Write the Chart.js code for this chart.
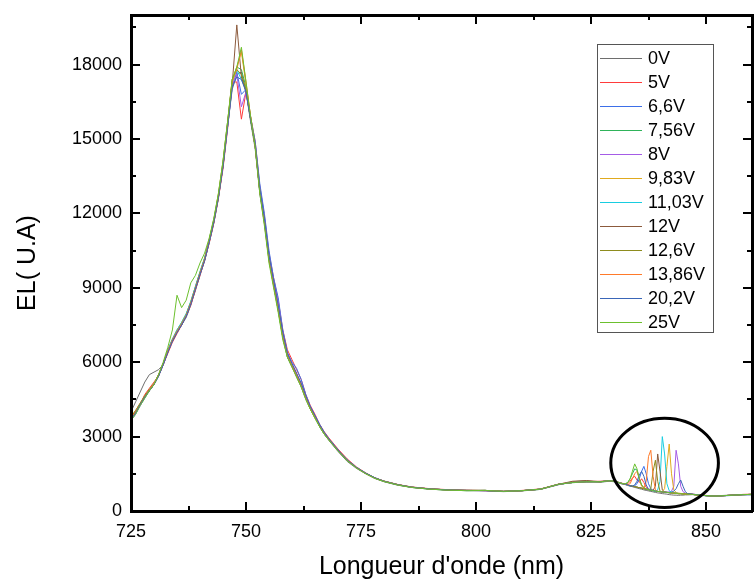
<!DOCTYPE html>
<html>
<head>
<meta charset="utf-8">
<title>EL spectra</title>
<script src="https://cdn.jsdelivr.net/npm/chart.js@4.4.1/dist/chart.umd.min.js"></script>
<style>
    html, body { margin: 0; padding: 0; background: #fff; overflow: hidden; }
    #wrap { width: 755px; height: 583px; }
    canvas { display: block; }
</style>
</head>
<body>
<div id="wrap"><canvas id="elChart" width="755" height="583"></canvas></div>
<script>
// wavelengths (nm), shared by every spectrum
const wavelengths = [
    725, 726, 727, 728, 729, 730, 731, 732, 733, 734,
    735, 736, 737, 738, 739, 740, 741, 742, 743, 744,
    745, 746, 747, 748, 749, 750, 751, 752, 753, 754,
    755, 756, 757, 758, 759, 760, 761, 762, 763, 764,
    765, 766, 767, 768,
    770, 772, 774, 776, 778, 780, 783, 786,
    790, 794, 798, 802, 806, 810, 814, 818, 821, 824, 827, 829,
    830, 830.5, 831, 831.5, 832, 832.5, 833, 833.5, 834, 834.5,
    835, 835.5, 836, 836.5, 837, 837.5, 838, 838.5, 839, 839.5,
    840, 840.5, 841, 841.5, 842, 842.5, 843, 843.5, 844, 844.5,
    845, 845.5, 846,
    847, 848, 850, 852, 854, 856, 858, 860
];

// EL intensity (U.A) for each applied voltage
const el0V = [
    4000, 4400, 4800, 5200, 5500, 5600, 5700, 5900, 6500, 6900,
    7200, 7500, 7800, 8300, 8900, 9500, 10100, 10800, 11600, 12600,
    13900, 15500, 17000, 17600, 17700, 16900, 15700, 14600, 12800, 11600,
    10100, 9100, 8100, 7000, 6200, 5800, 5400, 5000, 4500, 4100,
    3750, 3400, 3100, 2850,
    2400, 2000, 1720, 1500, 1310, 1180, 1040, 950,
    880, 840, 820, 810, 780, 810, 870, 1060, 1180, 1220, 1160, 1200,
    1180, 1160, 1140, 1100, 1080, 1060, 1030, 1000, 980, 950,
    930, 900, 880, 850, 830, 810, 790, 770, 750, 730,
    720, 700, 690, 680, 660, 650, 640, 640, 630, 640,
    640, 650, 650,
    660, 650, 620, 610, 630, 650, 660, 650
];
const el5V = [
    3700, 3950, 4300, 4700, 4950, 5200, 5450, 5900, 6350, 6800,
    7150, 7500, 7850, 8300, 8900, 9500, 10100, 10800, 11600, 12600,
    13800, 15400, 17300, 17300, 15800, 16900, 15900, 14900, 13100, 11900,
    10400, 9400, 8500, 7300, 6500, 6100, 5700, 5300, 4700, 4250,
    3900, 3500, 3200, 2950,
    2500, 2100, 1780, 1540, 1340, 1210, 1070, 970,
    900, 860, 840, 820, 800, 830, 890, 1090, 1160, 1190, 1200, 1230,
    1210, 1190, 1160, 1130, 1110, 1090, 1100, 1200, 1330, 1400,
    1250, 1150, 1300, 1150, 950, 880, 850, 830, 810, 790,
    780, 770, 760, 750, 745, 740, 730, 720, 710, 705,
    700, 690, 690,
    680, 660, 630, 600, 620, 640, 670, 680
];
const el6_6V = [
    3650, 3900, 4250, 4550, 4850, 5100, 5450, 5900, 6400, 6850,
    7200, 7500, 7850, 8350, 8950, 9550, 10100, 10850, 11650, 12650,
    13900, 15500, 17100, 17700, 16800, 17000, 15900, 14900, 13200, 12000,
    10500, 9400, 8600, 7300, 6400, 6000, 5750, 5300, 4700, 4200,
    3850, 3500, 3180, 2920,
    2470, 2060, 1760, 1530, 1340, 1200, 1060, 960,
    890, 850, 830, 830, 790, 820, 880, 1070, 1150, 1170, 1190, 1210,
    1190, 1170, 1140, 1110, 1090, 1070, 1040, 1010, 1000, 1020,
    1100, 1300, 1600, 1800, 1500, 1100, 900, 830, 800, 790,
    780, 770, 760, 750, 740, 730, 720, 710, 700, 700,
    690, 690, 680,
    670, 650, 610, 590, 610, 630, 650, 660
];
const el7_56V = [
    3750, 4000, 4300, 4600, 4850, 5100, 5450, 5950, 6450, 6900,
    7300, 7600, 7950, 8450, 9050, 9650, 10200, 10950, 11750, 12750,
    14100, 15700, 17300, 17900, 17800, 17100, 15800, 14700, 12900, 11700,
    10200, 9100, 8100, 7000, 6200, 5850, 5450, 5050, 4550, 4100,
    3750, 3400, 3100, 2870,
    2430, 2030, 1740, 1510, 1320, 1190, 1050, 950,
    880, 840, 820, 830, 790, 820, 870, 1080, 1140, 1180, 1170, 1210,
    1200, 1180, 1150, 1120, 1100, 1100, 1150, 1300, 1500, 1700,
    1650, 1300, 1050, 920, 880, 860, 840, 820, 800, 790,
    780, 770, 760, 750, 740, 730, 720, 710, 700, 700,
    690, 690, 680,
    670, 650, 620, 600, 620, 640, 660, 670
];
const el8V = [
    3700, 3950, 4250, 4600, 4850, 5100, 5450, 5900, 6400, 6850,
    7200, 7500, 7850, 8350, 8950, 9550, 10100, 10850, 11650, 12650,
    13900, 15500, 17200, 17600, 16300, 16900, 15800, 14800, 13000, 11800,
    10300, 9300, 8400, 7200, 6350, 5950, 5550, 5150, 4650, 4200,
    3850, 3480, 3170, 2910,
    2460, 2060, 1760, 1530, 1340, 1200, 1060, 960,
    890, 850, 830, 820, 790, 820, 880, 1080, 1150, 1180, 1180, 1220,
    1200, 1180, 1150, 1120, 1100, 1080, 1050, 1020, 1000, 980,
    960, 940, 920, 900, 880, 860, 840, 820, 800, 790,
    780, 770, 760, 760, 770, 800, 1000, 2450, 1900, 1000,
    780, 720, 700,
    680, 660, 620, 600, 620, 640, 660, 670
];
const el9_83V = [
    3800, 4050, 4350, 4650, 4900, 5150, 5500, 5950, 6450, 6900,
    7250, 7550, 7900, 8400, 9000, 9600, 10200, 10950, 11750, 12800,
    14100, 15700, 17400, 17900, 18500, 17200, 15900, 14700, 12900, 11600,
    10100, 9100, 8100, 7000, 6250, 5850, 5450, 5050, 4550, 4100,
    3750, 3420, 3120, 2880,
    2440, 2040, 1750, 1520, 1330, 1200, 1060, 960,
    890, 850, 830, 830, 790, 820, 880, 1080, 1150, 1180, 1180, 1220,
    1200, 1180, 1150, 1120, 1100, 1080, 1050, 1020, 1000, 980,
    960, 940, 920, 900, 880, 860, 840, 820, 800, 790,
    780, 790, 900, 1800, 2700, 1500, 850, 750, 720, 710,
    700, 690, 680,
    670, 650, 620, 600, 620, 640, 660, 670
];
const el11_03V = [
    3750, 4000, 4300, 4600, 4850, 5150, 5500, 5950, 6500, 6950,
    7300, 7600, 7950, 8450, 9050, 9650, 10200, 10900, 11700, 12700,
    14000, 15600, 17300, 17800, 17400, 17000, 15800, 14700, 12900, 11700,
    10200, 9200, 8200, 7100, 6300, 5900, 5500, 5100, 4600, 4150,
    3800, 3450, 3150, 2900,
    2450, 2050, 1750, 1520, 1330, 1200, 1060, 960,
    890, 850, 830, 830, 790, 820, 880, 1080, 1150, 1180, 1180, 1220,
    1200, 1180, 1150, 1120, 1100, 1080, 1050, 1020, 1000, 980,
    960, 940, 920, 900, 880, 860, 840, 820, 800, 850,
    1200, 3000, 2300, 1100, 820, 760, 740, 720, 710, 700,
    690, 690, 680,
    670, 650, 620, 600, 620, 640, 660, 670
];
const el12V = [
    3750, 4000, 4300, 4600, 4850, 5100, 5450, 5900, 6400, 6850,
    7200, 7500, 7850, 8350, 8950, 9550, 10100, 10850, 11650, 12650,
    13900, 15600, 17200, 19600, 17500, 16900, 15800, 14700, 12900, 11700,
    10200, 9200, 8200, 7100, 6300, 5900, 5500, 5100, 4600, 4150,
    3800, 3450, 3150, 2900,
    2450, 2050, 1750, 1520, 1330, 1200, 1060, 960,
    890, 850, 830, 830, 790, 820, 880, 1080, 1200, 1230, 1180, 1220,
    1200, 1180, 1150, 1120, 1100, 1080, 1050, 1020, 1000, 980,
    960, 940, 920, 900, 880, 860, 840, 830, 1000, 2300,
    1600, 850, 760, 750, 740, 730, 720, 710, 700, 700,
    690, 690, 680,
    670, 650, 620, 600, 620, 640, 660, 670
];
const el12_6V = [
    3800, 4050, 4350, 4650, 4900, 5150, 5500, 5950, 6450, 6900,
    7250, 7550, 7900, 8400, 9000, 9600, 10150, 10900, 11700, 12700,
    14000, 15600, 17400, 17800, 17600, 17000, 15800, 14700, 12900, 11700,
    10200, 9200, 8200, 7100, 6300, 5900, 5500, 5100, 4600, 4150,
    3800, 3450, 3150, 2900,
    2450, 2050, 1750, 1520, 1330, 1200, 1060, 960,
    890, 850, 830, 830, 790, 820, 880, 1080, 1150, 1180, 1180, 1220,
    1200, 1180, 1150, 1120, 1100, 1080, 1050, 1020, 1000, 980,
    960, 940, 920, 900, 880, 860, 900, 1600, 2050, 1200,
    800, 770, 760, 750, 740, 730, 720, 710, 700, 700,
    690, 690, 680,
    670, 650, 620, 600, 620, 640, 660, 670
];
const el13_86V = [
    3750, 4000, 4300, 4600, 4850, 5150, 5500, 5950, 6450, 6900,
    7250, 7550, 7900, 8400, 9000, 9600, 10150, 10900, 11700, 12700,
    14000, 15600, 17300, 17800, 18600, 17300, 15900, 14700, 12900, 11700,
    10200, 9200, 8200, 7100, 6300, 5900, 5500, 5100, 4600, 4150,
    3800, 3450, 3150, 2900,
    2450, 2050, 1750, 1520, 1330, 1200, 1060, 960,
    890, 850, 830, 830, 790, 820, 880, 1080, 1150, 1180, 1180, 1220,
    1200, 1180, 1150, 1120, 1100, 1080, 1050, 1100, 1300, 1500,
    1600, 1300, 1000, 920, 1200, 2200, 2450, 1400, 850, 790,
    780, 770, 760, 750, 740, 730, 720, 710, 700, 700,
    690, 690, 680,
    670, 650, 620, 600, 620, 640, 660, 670
];
const el20_2V = [
    3700, 3950, 4300, 4600, 4850, 5100, 5450, 5900, 6400, 6850,
    7200, 7500, 7850, 8350, 8950, 9550, 10100, 10850, 11650, 12650,
    13900, 15500, 17100, 17500, 17400, 16900, 15800, 14800, 13000, 11800,
    10300, 9300, 8300, 7200, 6350, 5950, 5550, 5150, 4650, 4200,
    3850, 3480, 3170, 2910,
    2460, 2060, 1760, 1530, 1340, 1200, 1060, 960,
    890, 850, 830, 820, 790, 820, 880, 1080, 1150, 1180, 1180, 1220,
    1200, 1180, 1150, 1120, 1100, 1080, 1050, 1020, 1000, 1050,
    1200, 1450, 1600, 1400, 1050, 880, 840, 820, 800, 790,
    780, 770, 760, 750, 740, 760, 800, 900, 1100, 1250,
    1000, 780, 700,
    680, 660, 620, 600, 620, 640, 660, 670
];
const el25V = [
    3650, 3900, 4250, 4550, 4850, 5100, 5500, 6000, 6600, 7300,
    8700, 8200, 8500, 9200, 9500, 10000, 10400, 11000, 11800, 12800,
    14100, 15700, 17400, 17900, 18700, 17300, 15900, 14700, 12800, 11500,
    10000, 9000, 8000, 6900, 6200, 5800, 5400, 5000, 4500, 4100,
    3750, 3400, 3100, 2860,
    2420, 2030, 1740, 1510, 1320, 1190, 1050, 950,
    880, 840, 820, 830, 790, 820, 880, 1080, 1150, 1180, 1180, 1220,
    1200, 1180, 1150, 1120, 1100, 1100, 1150, 1300, 1600, 1900,
    1700, 1300, 1050, 950, 880, 860, 840, 820, 800, 790,
    780, 770, 760, 750, 740, 730, 720, 710, 700, 700,
    690, 690, 680,
    670, 650, 620, 600, 620, 640, 660, 670
];

const seriesLabels = ['0V', '5V', '6,6V', '7,56V', '8V', '9,83V', '11,03V', '12V', '12,6V', '13,86V', '20,2V', '25V'];
const seriesValues = [el0V, el5V, el6_6V, el7_56V, el8V, el9_83V, el11_03V, el12V, el12_6V, el13_86V, el20_2V, el25V];
const seriesColors = ['#6e6e6e', '#ff3b3b', '#3d6fe8', '#2fb35a', '#a55ce6', '#e0aa1e',
                      '#18cde0', '#8c5a3c', '#8e8c1e', '#ff7a2a', '#3a66b8', '#6cc02e'];

const xTicks = [725, 750, 775, 800, 825, 850];
const yTicks = [0, 3000, 6000, 9000, 12000, 15000, 18000];

// ellipse drawn around the small peaks (data units)
const markCenter = [841, 1940];
const markRadius = [11.7, 1800];

const FONT = "'Liberation Sans', Arial, sans-serif";

seriesValues.forEach((v, i) => {
    if (v.length !== wavelengths.length) console.warn(seriesLabels[i], v.length);
});

const datasets = seriesLabels.map((label, i) => ({
    label: label,
    data: wavelengths.map((w, j) => ({x: w, y: seriesValues[i][j]})),
    borderColor: seriesColors[i],
    backgroundColor: seriesColors[i],
    borderWidth: 1,
    pointRadius: 0,
    tension: 0,
    fill: false,
    order: seriesLabels.length - i
}));

// frame with inward ticks on all four sides, plus the ellipse
const framePlugin = {
    id: 'frame',
    afterDraw(chart) {
        const {ctx, chartArea: a, scales: {x, y}} = chart;
        const L = Math.round(a.left), R = Math.round(a.right);
        const T = Math.round(a.top), B = Math.round(a.bottom);
        ctx.save();
        ctx.fillStyle = '#000';
        ctx.fillRect(L - 1, T - 1, R - L + 2, 3);   // top
        ctx.fillRect(L - 1, B - 1, R - L + 2, 3);   // bottom
        ctx.fillRect(L - 1, T - 1, 3, B - T + 2);   // left
        ctx.fillRect(R - 1, T - 1, 3, B - T + 2);   // right

        for (let v = x.min; v <= x.max; v += 12.5) {
            const px = Math.round(x.getPixelForValue(v));
            const len = xTicks.includes(v) ? 9 : 5;
            ctx.fillRect(px - 1, B - len, 2, len);
            ctx.fillRect(px - 1, T, 2, len);
        }
        for (let v = y.min; v <= y.max; v += 1500) {
            const py = Math.round(y.getPixelForValue(v));
            const len = yTicks.includes(v) ? 9 : 5;
            ctx.fillRect(L, py - 1, len, 2);
            ctx.fillRect(R - len, py - 1, len, 2);
        }

        const cx = x.getPixelForValue(markCenter[0]);
        const cy = y.getPixelForValue(markCenter[1]);
        const rx = x.getPixelForValue(markCenter[0] + markRadius[0]) - cx;
        const ry = cy - y.getPixelForValue(markCenter[1] + markRadius[1]);
        ctx.strokeStyle = '#000';
        ctx.lineWidth = 3;
        ctx.beginPath();
        ctx.ellipse(cx, cy, rx, ry, 0, 0, Math.PI * 2);
        ctx.stroke();
        ctx.restore();
    }
};

// boxed legend inside the plot, top right
const legendPlugin = {
    id: 'boxLegend',
    afterDraw(chart) {
        const {ctx, chartArea: a} = chart;
        const left = Math.round(a.right) - 155;
        const top = Math.round(a.top) + 29;
        const rowH = 24;
        const sets = chart.data.datasets;
        ctx.save();
        ctx.strokeStyle = '#555';
        ctx.lineWidth = 1;
        ctx.strokeRect(left + 0.5, top + 0.5, 116, sets.length * rowH);
        ctx.font = '18px ' + FONT;
        ctx.textBaseline = 'middle';
        ctx.textAlign = 'left';
        sets.forEach((ds, i) => {
            const cy = top + 14 + i * rowH;
            ctx.strokeStyle = ds.borderColor;
            ctx.lineWidth = 1;
            ctx.beginPath();
            ctx.moveTo(left + 3, cy + 0.5);
            ctx.lineTo(left + 45, cy + 0.5);
            ctx.stroke();
            ctx.fillStyle = '#000';
            ctx.fillText(ds.label, left + 51, cy + 1);
        });
        ctx.restore();
    }
};

new Chart(document.getElementById('elChart'), {
    type: 'line',
    data: { datasets: datasets },
    options: {
        responsive: false,
        animation: false,
        layout: { padding: { left: 0, top: 15, right: 3, bottom: 0 } },
        plugins: {
            legend: { display: false },
            tooltip: { enabled: false }
        },
        scales: {
            x: {
                type: 'linear',
                min: 725,
                max: 860,
                afterBuildTicks: (scale) => { scale.ticks = xTicks.map(v => ({value: v})); },
                afterFit: (scale) => {
                    scale.height = 72;
                    scale.paddingLeft = 0;
                    scale.paddingRight = 0;
                },
                grid: { display: false, drawTicks: false },
                border: { display: false },
                ticks: { color: '#000', font: { family: FONT, size: 18 }, padding: 10, maxRotation: 0 },
                title: {
                    display: true,
                    text: "Longueur d'onde (nm)",
                    color: '#000',
                    font: { family: FONT, size: 25 },
                    padding: { top: 0, bottom: 1 }
                }
            },
            y: {
                min: 0,
                max: 20000,
                afterBuildTicks: (scale) => { scale.ticks = yTicks.map(v => ({value: v})); },
                afterFit: (scale) => {
                    scale.width = 131;
                    scale.paddingTop = 0;
                    scale.paddingBottom = 0;
                },
                grid: { display: false, drawTicks: false },
                border: { display: false },
                ticks: {
                    color: '#000',
                    font: { family: FONT, size: 18 },
                    padding: 9,
                    callback: (v) => String(v)
                },
                title: {
                    display: true,
                    text: 'EL( U.A)',
                    color: '#000',
                    font: { family: FONT, size: 25 },
                    padding: { top: 13, bottom: 0 }
                }
            }
        }
    },
    plugins: [framePlugin, legendPlugin]
});
</script>
</body>
</html>
